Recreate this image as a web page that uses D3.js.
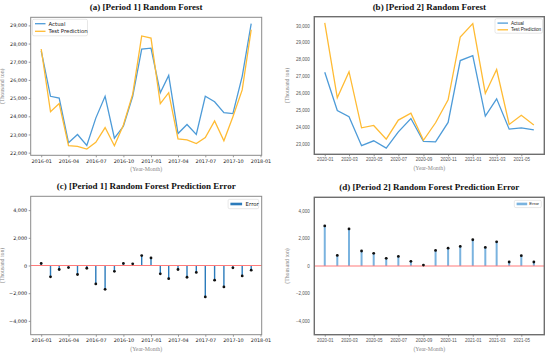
<!DOCTYPE html>
<html>
<head>
<meta charset="utf-8">
<script src="https://cdn.jsdelivr.net/npm/d3@7"></script>
<style>
  body { margin: 0; background: #fff; }
  svg { display: block; }
</style>
</head>
<body>
<div id="chart"></div>
<script>
// months
const p1Months = ['2016-01','2016-02','2016-03','2016-04','2016-05','2016-06','2016-07','2016-08',
  '2016-09','2016-10','2016-11','2016-12','2017-01','2017-02','2017-03','2017-04','2017-05','2017-06',
  '2017-07','2017-08','2017-09','2017-10','2017-11','2017-12']
const p2Months = ['2020-01','2020-02','2020-03','2020-04','2020-05','2020-06','2020-07','2020-08',
  '2020-09','2020-10','2020-11','2020-12','2021-01','2021-02','2021-03','2021-04','2021-05','2021-06']

// period 1 (thousand ton)
const p1Actual = [27600, 25100, 25000, 22550, 23000, 22400, 23900, 25100, 22800, 23450, 25100, 27700,
  27750, 25300, 26250, 23050, 23550, 23000, 25100, 24800, 24200, 24150, 26200, 29100]
const p1Pred = [27700, 24250, 24700, 22380, 22350, 22200, 22570, 23380, 22380, 23520, 25220, 28420,
  28300, 24700, 25300, 22760, 22700, 22500, 22830, 23740, 22650, 23980, 25450, 28760]
const p1Error = [150, -820, -290, -150, -650, -200, -1330, -1720, -420, 150, 120, 720,
  550, -600, -950, -290, -850, -500, -2270, -1060, -1550, -170, -750, -340]

// period 2
const p2Actual = [27240, 24970, 24600, 22880, 23170, 22740, 23700, 24490, 23140, 23110, 24260, 27930,
  28220, 24630, 25660, 23860, 23940, 23820]
const p2Pred = [30160, 25720, 27270, 23940, 24080, 23270, 24400, 24810, 23200, 24240, 25600, 29330,
  30120, 25980, 27400, 24140, 24680, 24110]
const p2Error = [2920, 770, 2700, 1090, 920, 555, 700, 340, 70, 1135, 1300, 1425,
  1910, 1350, 1760, 290, 750, 290]

const p1Ticks = ['2016-01','2016-04','2016-07','2016-10','2017-01','2017-04','2017-07','2017-10','2018-01']
const p2Ticks = ['2020-01','2020-03','2020-05','2020-07','2020-09','2020-11','2021-01','2021-03','2021-05']
const errTicks = [-4000, -2000, 0, 2000, 4000]

const parseMonth = d3.timeParse('%Y-%m')
const fmtMonth = d3.timeFormat('%Y-%m')

const serif = '"Liberation Serif", "Times New Roman", serif'
const blue = '#4d9bd8', orange = '#ffbb33'

const svg = d3.select('#chart').append('svg')
  .attr('width', 550).attr('height', 357)

const panels = [
  { title: '(a)  [Period 1] Random Forest', box: [30.7, 17.3, 261.7, 155.3], style: 1,
    months: p1Months, ticks: p1Ticks, kind: 'line', actual: p1Actual, pred: p1Pred },
  { title: '(b)  [Period 2] Random Forest', box: [314.3, 16.7, 544.3, 154.3], style: 2,
    months: p2Months, ticks: p2Ticks, kind: 'line', actual: p2Actual, pred: p2Pred },
  { title: '(c)  [Period 1] Random Forest Prediction Error', box: [30.7, 196.3, 261.7, 334.7], style: 1,
    months: p1Months, ticks: p1Ticks, kind: 'stem', error: p1Error },
  { title: '(d)  [Period 2] Random Forest Prediction Error', box: [314.3, 197.3, 544.3, 334.7], style: 2,
    months: p2Months, ticks: p2Ticks, kind: 'stem', error: p2Error }
]

panels.forEach(drawPanel)

function drawPanel(p) {
  const [x0, y0, x1, y1] = p.box
  const dates = p.months.map(parseMonth)
  const span = dates[dates.length - 1] - dates[0]
  const x = d3.scaleTime()
    .domain([new Date(+dates[0] - span * 0.05), new Date(+dates[dates.length - 1] + span * 0.05)])
    .range([x0, x1])

  let y
  if (p.kind === 'line') {
    const all = p.actual.concat(p.pred)
    const lo = d3.min(all), hi = d3.max(all), pad = (hi - lo) * 0.05
    y = d3.scaleLinear().domain([lo - pad, hi + pad]).range([y1, y0])
  } else {
    y = d3.scaleLinear().domain([-5000, 5000]).range([y1, y0])
  }

  const g = svg.append('g')
  const tickFont = p.style === 1 ? '"DejaVu Sans", sans-serif' : '"Liberation Sans", Arial, sans-serif'
  const tickSize = p.style === 1 ? '4.9px' : '4.5px'
  const tickColor = p.style === 1 ? '#222' : '#555'

  // x axis
  const xa = g.append('g')
    .attr('transform', `translate(0,${y1})`)
    .call(d3.axisBottom(x).tickValues(p.ticks.map(parseMonth)).tickFormat(fmtMonth).tickSize(2).tickPadding(2))
  // y axis
  const yTicks = p.kind === 'line'
    ? y.ticks(8).filter(v => v % 1000 === 0)
    : errTicks
  const ya = g.append('g')
    .attr('transform', `translate(${x0},0)`)
    .call(d3.axisLeft(y).tickValues(yTicks).tickFormat(d3.format(',')).tickSize(p.style === 1 ? 2 : 0).tickPadding(p.style === 1 ? 1.5 : 4.5))
  ;[xa, ya].forEach(a => {
    a.select('.domain').remove()
    a.selectAll('line').attr('stroke', '#555').attr('stroke-width', 0.6)
    a.selectAll('text').style('font-family', tickFont).style('font-size', tickSize).attr('fill', tickColor)
  })

  if (p.kind === 'line') {
    const line = d3.line().x((d, i) => x(dates[i])).y(d => y(d))
    g.append('path').datum(p.actual).attr('d', line)
      .attr('fill', 'none').attr('stroke', blue).attr('stroke-width', 1.3)
    g.append('path').datum(p.pred).attr('d', line)
      .attr('fill', 'none').attr('stroke', orange).attr('stroke-width', 1.3)
  } else {
    g.selectAll('.stem').data(p.error).enter().append('line')
      .attr('x1', (d, i) => x(dates[i])).attr('x2', (d, i) => x(dates[i]))
      .attr('y1', y(0)).attr('y2', d => y(d))
      .attr('stroke', p.style === 1 ? '#2b7bbb' : '#7ab3df')
      .attr('stroke-width', p.style === 1 ? 1.4 : 2)
    g.append('line')
      .attr('x1', x0).attr('x2', x1).attr('y1', y(0)).attr('y2', y(0))
      .attr('stroke', '#ff7a7a').attr('stroke-width', 1.1)
    g.selectAll('.dot').data(p.error).enter().append('circle')
      .attr('cx', (d, i) => x(dates[i])).attr('cy', d => y(d))
      .attr('r', 1.4).attr('fill', '#111')
  }

  // frame
  g.append('rect')
    .attr('x', x0).attr('y', y0).attr('width', x1 - x0).attr('height', y1 - y0)
    .attr('fill', 'none')
    .attr('stroke', p.style === 1 ? '#8a8a8a' : '#6e6e6e')
    .attr('stroke-width', p.style === 1 ? 1 : 1.4)

  // title
  g.append('text')
    .attr('x', (x0 + x1) / 2).attr('y', y0 - 7)
    .attr('text-anchor', 'middle')
    .style('font-family', serif).style('font-weight', 'bold').style('font-size', '9px')
    .attr('fill', '#111')
    .text(p.title)

  // axis labels
  g.append('text')
    .attr('x', (x0 + x1) / 2).attr('y', y1 + 16)
    .attr('text-anchor', 'middle')
    .style('font-family', serif).style('font-size', '5.8px').attr('fill', '#888')
    .text('(Year-Month)')
  g.append('text')
    .attr('transform', `translate(${x0 - (p.style === 1 ? 26.5 : 25)},${(y0 + y1) / 2}) rotate(-90)`)
    .attr('text-anchor', 'middle')
    .style('font-family', serif).style('font-size', '5.8px').attr('fill', '#888')
    .text('(Thousand ton)')

  // legend
  const lf = p.style === 1 ? '"DejaVu Sans", sans-serif' : '"Liberation Sans", Arial, sans-serif'
  if (p.kind === 'line') {
    const items = [{ label: 'Actual', color: blue }, { label: 'Test Prediction', color: orange }]
    const w = p.style === 1 ? 55 : 47.5, h = p.style === 1 ? 16.5 : 14.5
    const lx = p.style === 1 ? x0 + 1.8 : x1 - w - 1.8
    const ly = y0 + 2
    const leg = g.append('g').attr('transform', `translate(${lx},${ly})`)
    leg.append('rect').attr('width', w).attr('height', h).attr('rx', 1.5)
      .attr('fill', '#fff').attr('stroke', '#d6d6d6').attr('stroke-width', 0.6)
    const step = p.style === 1 ? 7.6 : 6.7
    leg.selectAll('g').data(items).enter().append('g')
      .attr('transform', (d, i) => `translate(0,${4.4 + i * step})`)
      .each(function(d) {
        const it = d3.select(this)
        it.append('line').attr('x1', 2.5).attr('x2', 13).attr('stroke', d.color).attr('stroke-width', 1.3)
        it.append('text').attr('x', 16).attr('dy', '0.35em')
          .style('font-family', lf).style('font-size', p.style === 1 ? '5.4px' : '4.6px').attr('fill', '#222')
          .text(d.label)
      })
  } else {
    const w = p.style === 1 ? 30.6 : 27, h = p.style === 1 ? 9.4 : 7.3
    const lx = x1 - w - 3, ly = y0 + 3
    const leg = g.append('g').attr('transform', `translate(${lx},${ly})`)
    leg.append('rect').attr('width', w).attr('height', h).attr('rx', 1.5)
      .attr('fill', '#fff').attr('stroke', '#d6d6d6').attr('stroke-width', 0.6)
    leg.append('rect').attr('x', 2.3).attr('y', h / 2 - 1.3).attr('width', p.style === 1 ? 11.7 : 10.6).attr('height', 2.6)
      .attr('fill', p.style === 1 ? '#2b7bbb' : '#7ab3df')
    leg.append('text').attr('x', p.style === 1 ? 17.5 : 15).attr('y', h / 2).attr('dy', '0.35em')
      .style('font-family', lf).style('font-size', p.style === 1 ? '5.4px' : '4.4px').attr('fill', '#222')
      .text('Error')
  }
}
</script>
</body>
</html>
